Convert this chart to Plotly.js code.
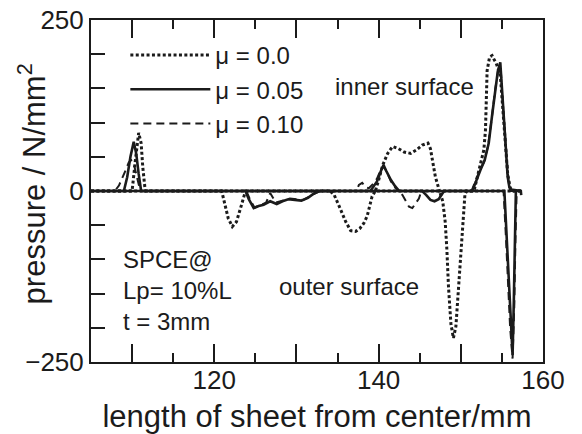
<!DOCTYPE html>
<html>
<head>
<meta charset="utf-8">
<script src="https://cdn.plot.ly/plotly-3.0.1.min.js"></script>
<style>
html,body{margin:0;padding:0;background:#fff;}
#chart{width:582px;height:434px;}
</style>
</head>
<body>
<div id="chart"></div>
<script>
// μ = 0.0 (dotted) — inner surface (positive) and outer surface (negative)
var mu00InnerX = [105, 110.0, 110.4, 110.8, 111.1, 111.3, 111.6, 139.6, 140.0, 140.5, 141.1, 141.7, 142.4, 143.1, 143.9, 144.6, 145.3, 146.0, 146.3, 146.6, 146.9, 147.4, 151.6, 152.0, 152.4, 152.8, 153.0, 153.1, 153.2, 153.5, 153.8, 154.1, 154.3, 154.8, 155.1, 155.4, 155.7, 156.0, 156.3, 157.3];
var mu00InnerY = [0, 0, 45, 85, 70, 35, 0, 0, 16, 38, 55, 65, 62, 57, 55, 60, 67, 70, 62, 40, 21, 0, 0, 20, 40, 60, 89, 137, 176, 196, 198, 191, 187, 170, 120, 70, 25, 5, 0, 0];
var mu00OuterX = [105, 120.9, 121.3, 121.7, 122.2, 122.7, 123.2, 123.8, 134.1, 134.6, 135.3, 136.0, 136.6, 137.2, 137.7, 138.2, 138.6, 139.2, 139.6, 147.4, 147.8, 148.1, 148.3, 148.5, 148.8, 149.1, 149.4, 149.8, 150.1, 150.3, 150.5, 150.7, 157.3];
var mu00OuterY = [0, 0, -20, -40, -52, -45, -25, 0, 0, -6, -25, -45, -58, -59, -55, -47, -37, -8, 0, 0, -15, -45, -85, -140, -195, -215, -198, -130, -80, -33, -5, 0, 0];

// μ = 0.05 (solid)
var mu05InnerX = [105, 109.0, 109.4, 109.8, 110.2, 110.5, 110.8, 111.1, 139.0, 139.8, 140.3, 140.6, 140.9, 141.5, 142.0, 142.5, 151.4, 152.0, 152.4, 152.9, 153.4, 153.8, 154.2, 154.5, 154.8, 155.0, 155.3, 155.5, 155.7, 155.9, 156.1, 157.3, 157.35];
var mu05InnerY = [0, 0, 20, 50, 72, 55, 25, 0, 0, 14, 30, 38, 30, 16, 7, 0, 0, 20, 31, 45, 70, 110, 150, 175, 188, 150, 89, 50, 21, 6, 2, 0, -6];
var mu05OuterX = [105, 123.8, 124.2, 124.8, 125.4, 126.0, 126.8, 127.6, 128.3, 129.0, 129.8, 130.6, 131.4, 132.1, 132.8, 145.3, 145.8, 146.3, 146.8, 147.3, 147.8, 148.0, 155.3, 155.6, 155.9, 156.1, 156.3, 156.45, 156.6, 156.7, 157.3];
var mu05OuterY = [0, 0, -12, -25, -22, -20, -15, -19, -15, -12, -13, -14, -10, -4, 0, 0, -6, -13, -15, -12, -3, 0, 0, -75, -150, -200, -240, -160, -70, 0, 0];

// μ = 0.10 (dashed)
var mu10InnerX = [105, 107.9, 108.4, 108.8, 109.2, 109.6, 109.9, 110.3, 110.7, 111.0, 137.3, 137.6, 138.0, 138.4, 138.8, 139.3, 139.8, 140.3, 140.6, 141.0, 141.5, 142.0, 142.5, 151.3, 151.9, 152.4, 152.8, 153.3, 153.8, 154.2, 154.6, 154.9, 155.2, 155.5, 155.8, 156.0, 157.3];
var mu10InnerY = [0, 0, 8, 18, 30, 42, 45, 35, 15, 0, 0, 9, 12, 6, 4, 10, 18, 32, 36, 28, 14, 5, 0, 0, 18, 33, 42, 65, 110, 150, 180, 170, 110, 55, 15, 0, 0];
var mu10OuterX = [105, 123.9, 124.4, 124.9, 125.6, 126.3, 126.8, 127.5, 128.4, 129.2, 130.0, 130.8, 131.6, 132.3, 132.9, 142.5, 142.9, 143.4, 143.7, 144.1, 144.5, 144.9, 145.2, 155.2, 155.5, 155.8, 156.0, 156.3, 156.5, 156.65, 156.8, 157.3];
var mu10OuterY = [0, 0, -14, -24, -21, -17, -3, -17, -14, -11, -12, -13, -8, -3, 0, 0, -6, -16, -23, -25, -18, -11, 0, 0, -70, -150, -200, -245, -170, -70, 0, 0];

var seriesNames = ['\u03bc = 0.0', '\u03bc = 0.05', '\u03bc = 0.10'];

var xTickVals = [110, 120, 130, 140, 150, 160];
var xTickText = ['', '120', '', '140', '', '160'];
var yTickVals = [-250, -200, -150, -100, -50, 0, 50, 100, 150, 200, 250];
var yTickText = ['\u2212250', '', '', '', '', '0', '', '', '', '', '250'];

var ink = '#1b1b1b';
var styles = [
  {color: ink, width: 3.0, dash: '3px,2.4px'},
  {color: ink, width: 2.6, dash: 'solid'},
  {color: ink, width: 2.0, dash: '8px,5px'}
];

var inner = [[mu00InnerX, mu00InnerY], [mu05InnerX, mu05InnerY], [mu10InnerX, mu10InnerY]];
var outer = [[mu00OuterX, mu00OuterY], [mu05OuterX, mu05OuterY], [mu10OuterX, mu10OuterY]];

var data = [];
for (var i = 0; i < 3; i++) {
  data.push({x: inner[i][0], y: inner[i][1], type: 'scatter', mode: 'lines',
    name: seriesNames[i], legendgroup: 'g' + i, line: styles[i], showlegend: true});
}
for (var j = 0; j < 3; j++) {
  data.push({x: outer[j][0], y: outer[j][1], type: 'scatter', mode: 'lines',
    name: seriesNames[j], legendgroup: 'g' + j, line: styles[j], showlegend: false});
}

var fontFam = 'Liberation Sans, Arial, Helvetica, sans-serif';

var layout = {
  width: 582, height: 434,
  margin: {l: 91, r: 39, t: 20, b: 72, pad: 0},
  paper_bgcolor: '#ffffff', plot_bgcolor: '#ffffff',
  font: {family: fontFam, color: ink, size: 24},
  showlegend: true,
  legend: {x: 0.076, y: 0.962, xanchor: 'left', yanchor: 'top', bgcolor: 'rgba(0,0,0,0)',
    borderwidth: 0, font: {size: 24, family: fontFam, color: ink}, itemwidth: 80,
    traceorder: 'normal'},
  xaxis: {
    range: [105, 160], showgrid: false, zeroline: false,
    showline: true, linecolor: ink, linewidth: 2, mirror: 'ticks',
    ticks: 'inside', ticklen: 18, tickwidth: 2, tickcolor: ink,
    tickvals: xTickVals, ticktext: xTickText, ticklabelstandoff: -6,
    tickfont: {size: 26, family: fontFam, color: ink},
    minor: {dtick: 5, tick0: 105, ticks: 'inside', ticklen: 9, tickwidth: 2, tickcolor: ink, showgrid: false},
    title: {text: 'length of sheet from center/mm', font: {size: 31, family: fontFam, color: ink}, standoff: 14}
  },
  yaxis: {
    range: [-250, 250], showgrid: false, zeroline: false,
    showline: true, linecolor: ink, linewidth: 2, mirror: true,
    ticks: 'inside', ticklen: 14, tickwidth: 2, tickcolor: ink,
    tickvals: yTickVals, ticktext: yTickText,
    tickfont: {size: 26, family: fontFam, color: ink}
  },
  annotations: [
    {xref: 'paper', yref: 'paper', x: -0.13, y: 0.52, text: 'pressure / N/mm<sup>2</sup>',
      textangle: -90, showarrow: false, xanchor: 'center', yanchor: 'middle',
      font: {size: 31, family: fontFam, color: ink}},
    {xref: 'x', yref: 'y', x: 134.5, y: 153, text: 'inner surface', showarrow: false,
      xanchor: 'left', yanchor: 'middle', font: {size: 24, family: fontFam, color: ink}},
    {xref: 'x', yref: 'y', x: 127.6, y: -140, text: 'outer surface', showarrow: false,
      xanchor: 'left', yanchor: 'middle', font: {size: 24, family: fontFam, color: ink}},
    {xref: 'x', yref: 'y', x: 108.7, y: -146, text: 'SPCE@<br>Lp= 10%L<br>t = 3mm', showarrow: false,
      xanchor: 'left', yanchor: 'middle', align: 'left', font: {size: 24, family: fontFam, color: ink}}
  ]
};

Plotly.newPlot('chart', data, layout, {displayModeBar: false, staticPlot: true});
</script>
</body>
</html>
